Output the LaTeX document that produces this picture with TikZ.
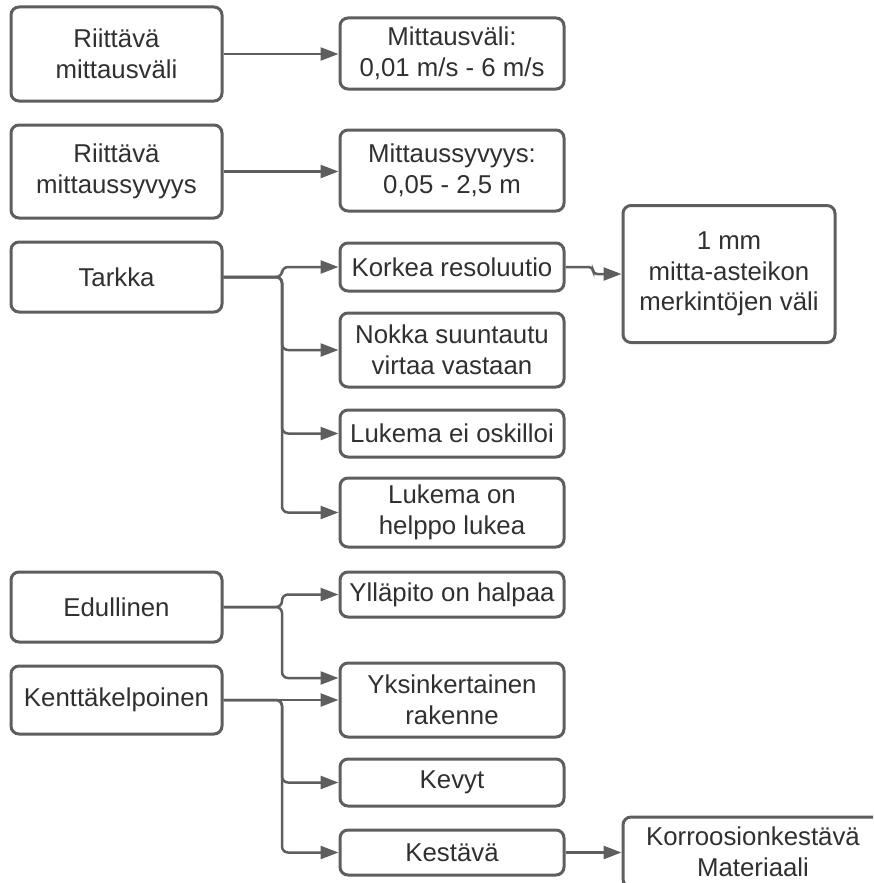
\documentclass[tikz,border=0pt]{standalone}
\usepackage{fontspec}
\setmainfont{Liberation Sans}
\usetikzlibrary{arrows.meta}
\definecolor{edgec}{HTML}{5E5E5E}
\definecolor{txtc}{HTML}{303030}
\begin{document}
\begin{tikzpicture}[x=1pt,y=-1pt,
  nbox/.style={draw=edgec, line width=3pt, rounded corners=8pt, align=center, text=txtc,
    font=\fontsize{25.8}{30.5}\selectfont, inner sep=0pt},
  conn/.style={draw=edgec, line width=2.5pt, -{Triangle[length=18pt,width=13pt]}, rounded corners=6pt}]
\useasboundingbox (0,0) rectangle (873,883);
\clip (0,0) rectangle (873,883);
\fill[white] (0,0) rectangle (873,883);
% left column
\node[nbox, minimum width=211pt, minimum height=94pt] (a1) at (116.5,54) {Riittävä\\mittausväli};
\node[nbox, minimum width=211pt, minimum height=93pt] (a2) at (116.5,171.5) {Riittävä\\mittaussyvyys};
\node[nbox, minimum width=211pt, minimum height=70pt] (t) at (116.5,277) {Tarkka};
\node[nbox, minimum width=211pt, minimum height=70pt] (e) at (116.5,607) {Edullinen};
\node[nbox, minimum width=211pt, minimum height=68pt] (kk) at (116.5,700) {Kenttäkelpoinen};
% middle column
\node[nbox, minimum width=224pt, minimum height=71pt] (b1) at (452,53.5) {Mittausväli:\\0,01 m/s - 6 m/s};
\node[nbox, minimum width=224pt, minimum height=81pt] (b2) at (452,170.5) {Mittaussyvyys:\\0,05 - 2,5 m};
\node[nbox, minimum width=224pt, minimum height=48pt] (k1) at (452,267) {Korkea resoluutio};
\node[nbox, minimum width=224pt, minimum height=74pt] (k2) at (452,350) {Nokka suuntautu\\virtaa vastaan};
\node[nbox, minimum width=224pt, minimum height=47pt] (k3) at (452,433.5) {Lukema ei oskilloi};
\node[nbox, minimum width=224pt, minimum height=69pt] (k4) at (452,512.5) {Lukema on\\helppo lukea};
\node[nbox, minimum width=224pt, minimum height=45pt] (y1) at (452,594.5) {Ylläpito on halpaa};
\node[nbox, minimum width=224pt, minimum height=74pt] (y2) at (452,700) {Yksinkertainen\\rakenne};
\node[nbox, minimum width=224pt, minimum height=47pt] (y3) at (452,782.5) {Kevyt};
\node[nbox, minimum width=224pt, minimum height=45pt] (y4) at (452,852.5) {Kestävä};
% right column
\node[nbox, minimum width=212pt, minimum height=137pt] (m1) at (729,274) {1 mm\\mitta-asteikon\\merkintöjen väli};
\node[nbox, minimum width=260pt, minimum height=70pt] (r2) at (753,852) {Korroosionkestävä\\Materiaali};
% junctions
\coordinate (j1) at (282,277);
\coordinate (jk) at (593,267);
\coordinate (j2) at (282,607);
\coordinate (j3) at (282,700);
% connectors
\draw[conn] (a1.east) -- (a1.east -| b1.west);
\draw[conn] (a2.east) -- (a2.east -| b2.west);
\draw[conn] (t.east) -- (j1) |- (k1.west);
\draw[conn] (t.east) -- (j1) |- (k2.west);
\draw[conn] (t.east) -- (j1) |- (k3.west);
\draw[conn] (t.east) -- (j1) |- (k4.west);
\draw[conn, rounded corners=4pt] (k1.east) -- (jk) |- (m1.west);
\draw[conn] (e.east) -- (j2) |- (y1.west);
\draw[conn] (e.east) -- (j2) |- ([yshift=22pt]y2.west);
\draw[conn] (kk.east) -- (y2.west);
\draw[conn] (kk.east) -- (j3) |- (y3.west);
\draw[conn] (kk.east) -- (j3) |- (y4.west);
\draw[conn] (y4.east) -- (y4.east -| r2.west);
\end{tikzpicture}
\end{document}
